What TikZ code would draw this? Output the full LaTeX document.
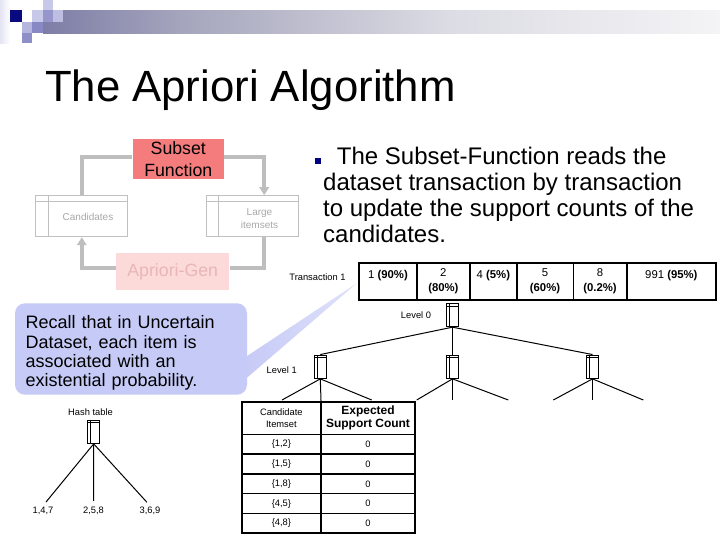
\documentclass[tikz,border=0pt]{standalone}
\usepackage{fontspec}
\setmainfont{Liberation Sans}
\usetikzlibrary{arrows.meta}

\definecolor{barnavy}{RGB}{30,30,134}
\definecolor{barmid}{RGB}{106,106,156}
\definecolor{bargrey}{RGB}{164,164,188}
\definecolor{barlight}{RGB}{220,220,228}
\definecolor{barpale}{RGB}{244,244,246}
\definecolor{bulletnavy}{RGB}{0,0,128}
\definecolor{sqnavy}{RGB}{10,10,128}
\definecolor{sqlight}{RGB}{200,200,232}
\definecolor{sqmid}{RGB}{150,150,204}
\definecolor{sqpale}{RGB}{228,228,242}
\definecolor{salmon}{RGB}{244,124,124}
\definecolor{pinkfill}{RGB}{252,218,218}
\definecolor{pinktext}{RGB}{232,182,182}
\definecolor{loopgrey}{RGB}{190,190,190}
\definecolor{boxgrey}{RGB}{192,192,192}
\definecolor{textgrey}{RGB}{168,168,168}
\definecolor{lav}{RGB}{198,202,246}
\definecolor{lavtip}{RGB}{224,226,250}

\pgfdeclarehorizontalshading{barshade}{100bp}{color(0bp)=(barnavy); color(20bp)=(barmid); color(35bp)=(bargrey); color(55bp)=(barlight); color(75bp)=(barpale); color(100bp)=(white)}

\tikzset{every picture/.style={line width=0.75pt}}

\begin{document}
\begin{tikzpicture}[x=0.75pt,y=0.75pt,yscale=-1,xscale=1,
  loopline/.style={draw=loopgrey, line width=3pt},
  looptip/.style={-{Triangle[width=7pt,length=6pt]}},
  listbox/.style={draw=boxgrey, minimum width=69pt, minimum height=30.75pt, inner sep=0pt,
    path picture={
      \draw [boxgrey] ([yshift=-4.5pt]path picture bounding box.north west) -- ([yshift=-4.5pt]path picture bounding box.north east);
      \draw [boxgrey] ([xshift=9.2pt]path picture bounding box.north west) -- ([xshift=9.2pt]path picture bounding box.south west);}},
  faint/.style={text=textgrey, align=center, inner sep=0pt, font=\fontsize{7.5}{10}\selectfont},
  hashicon/.style={draw, minimum width=8.7pt, minimum height=17.5pt, inner sep=0pt,
    path picture={
      \draw ([xshift=2pt]path picture bounding box.north west) -- ([xshift=2pt]path picture bounding box.south west);
      \draw ([yshift=-2pt]path picture bounding box.north west) -- ([yshift=-2pt]path picture bounding box.north east);}},
  small/.style={inner sep=0.75pt, font=\fontsize{7}{8}\selectfont},
  cell/.style={draw, line width=1.2pt, outer sep=0pt, inner sep=0pt, align=center, anchor=north west,
    minimum height=27.5pt, font=\fontsize{8.5}{11.25}\selectfont},
  tcell/.style={draw, line width=1pt, outer sep=0pt, inner sep=0.5pt, align=center, anchor=north west,
    font=\fontsize{7}{9}\selectfont},
  callout/.style={fill=lav, rounded corners=7.5pt, align=left, text width=158pt, inner xsep=8pt,
    minimum height=68.25pt, font=\fontsize{13.5}{14.4}\selectfont}]

%Background
\path [use as bounding box, fill=white] (0,0) rectangle (720,540);

%Shape: Header bar
\shade [shading=barshade] (43,10) rectangle (720,33);
%Shape: Corner squares
\shade [left color=sqpale, right color=white] (0,0) rectangle (10,43);
\fill [sqnavy] (10,10) rectangle (22,22);
\fill [sqlight] (32,10) rectangle (43,22);
\fill [sqlight] (43,0) rectangle (53,10);
\fill [sqmid] (43,10) rectangle (53,22);
\fill [sqlight!80!sqmid] (53,10) rectangle (63,22);
\fill [sqlight!90!sqnavy] (22,22) rectangle (32,33);
\fill [sqmid!90!sqnavy] (32,22) rectangle (43,33);
\fill [sqmid!95!sqnavy] (22,33) rectangle (32,43);

% Text Node
\node [anchor=base west, inner sep=0pt, font=\fontsize{32.8}{38}\selectfont] (title) at (44.5,101) {The Apriori Algorithm};

% Text Node
\node [anchor=north west, inner sep=0pt, align=left, font=\fontsize{18}{19.5}\selectfont] (desc) at (322.7,146.5)
  {\hspace*{-6.2pt}\textcolor{bulletnavy}{\rule[0.6pt]{4.5pt}{4.5pt}}\hspace{12pt}The Subset-Function reads the\\dataset transaction by transaction\\to update the support counts of the\\candidates.};

%Shape: Subset-Function cycle
\node [fill=salmon, minimum width=68.5pt, minimum height=30pt, inner sep=0pt, align=center, font=\fontsize{13.3}{16}\selectfont] (subset) at (178.3,159.3) {Subset\\Function};
\node [listbox] (cand) at (81.8,216.2) {};
\node [faint] (candtxt) at (88,217) {Candidates};
\node [listbox] (large) at (252.2,216.2) {};
\node [faint] (largetxt) at (259.5,218.5) {Large\\itemsets};
\node [fill=pinkfill, text=pinktext, minimum width=85pt, minimum height=27.5pt, inner sep=0pt, font=\fontsize{13.3}{16}\selectfont] (apgen) at (172.7,271.7) {Apriori-Gen};

%Straight Lines
\draw [loopline] ([yshift=-1.8pt]subset.west) -| (cand.north);
%Straight Lines
\draw [loopline, looptip] ([yshift=-1.8pt]subset.east) -| ([xshift=9pt]large.north);
%Straight Lines
\draw [loopline] ([xshift=9pt]large.south) |- ([yshift=-3pt]apgen.east);
%Straight Lines
\draw [loopline, looptip] ([yshift=-3pt]apgen.west) -| (cand.south);

% Text Node
\node [small] (tlabel) at (317.5,277.3) {Transaction 1};
%Shape: Transaction cells
\node [cell, minimum width=43.05pt] (t1) at (359.3,263.3) {1 \textbf{(90\%)}\\\phantom{0}};
\node [cell, minimum width=40pt] (t2) at (416.7,263.3) {2\\\textbf{(80\%)}};
\node [cell, minimum width=35pt] (t3) at (470,263.3) {4 \textbf{(5\%)}\\\phantom{0}};
\node [cell, minimum width=42.45pt] (t4) at (516.7,263.3) {5\\\textbf{(60\%)}};
\node [cell, minimum width=40.05pt] (t5) at (573.3,263.3) {8\\\textbf{(0.2\%)}};
\node [cell, minimum width=67pt] (t6) at (626.7,263.3) {991 \textbf{(95\%)}\\\phantom{0}};
\draw [line width=1.6pt] (t1.north west) rectangle (t6.south east);

%Shape: Callout
\node [callout] (recall) at (131,349) {\rule{0pt}{15.9pt}Recall that in Uncertain\\Dataset, each item is\\associated with an\\existential probability.};
\coordinate (tip) at (356.7,283.3);
\shade [left color=lav, right color=lavtip] ([xshift=-2pt,yshift=22.9pt]recall.east) -- (tip) -- ([xshift=-2pt,yshift=6.4pt]recall.east) -- cycle;

%Shape: Hash tree
\node [hashicon] (root) at (452.5,315) {};
\node [small] (lvl0) at (416,315) {Level 0};
\node [hashicon] (bkta) at (320.3,366.7) {};
\node [hashicon] (bktb) at (452.5,366.7) {};
\node [hashicon] (bktc) at (592.5,366.7) {};
\node [small] (lvl1) at (281.7,370) {Level 1};
\coordinate (a1) at (282,400);
\coordinate (a3) at (371.7,400);
\coordinate (b1) at (416.7,400);
\coordinate (b2) at (452.5,400);
\coordinate (b3) at (508.3,400);
\coordinate (c1) at (553.3,400);
\coordinate (c2) at (592.5,400);
\coordinate (c3) at (643.3,400);

%Straight Lines
\draw (root.south) -- (bkta.north);
\draw (root.south) -- (bktb.north);
\draw (root.south) -- (bktc.north);
%Straight Lines
\draw (bkta.south) -- (a1);
\draw (bkta.south) -- (a3);
\draw (bktb.south) -- (b1);
\draw (bktb.south) -- (b2);
\draw (bktb.south) -- (b3);
\draw (bktc.south) -- (c1);
\draw (bktc.south) -- (c2);
\draw (bktc.south) -- (c3);

%Shape: Candidate table
\node [tcell, minimum width=59.5pt, minimum height=24.5pt] (hdcand) at (241.7,401.7) {Candidate\\Itemset};
\node [tcell, minimum width=70.5pt, minimum height=24.5pt, font=\bfseries\fontsize{9}{10}\selectfont] (hdexp) at (321,401.7) {Expected\\Support Count};
\node [tcell, minimum width=59.5pt, minimum height=14.85pt] (r1) at (241.7,434.3) {\{1,2\}};
\node [tcell, minimum width=70.5pt, minimum height=14.85pt] (r1v) at (321,434.3) {0};
\node [tcell, minimum width=59.5pt, minimum height=14.85pt] (r2) at (241.7,454.1) {\{1,5\}};
\node [tcell, minimum width=70.5pt, minimum height=14.85pt] (r2v) at (321,454.1) {0};
\node [tcell, minimum width=59.5pt, minimum height=14.85pt] (r3) at (241.7,473.9) {\{1,8\}};
\node [tcell, minimum width=70.5pt, minimum height=14.85pt] (r3v) at (321,473.9) {0};
\node [tcell, minimum width=59.5pt, minimum height=14.85pt] (r4) at (241.7,493.7) {\{4,5\}};
\node [tcell, minimum width=70.5pt, minimum height=14.85pt] (r4v) at (321,493.7) {0};
\node [tcell, minimum width=59.5pt, minimum height=14.85pt] (r5) at (241.7,513.5) {\{4,8\}};
\node [tcell, minimum width=70.5pt, minimum height=14.85pt] (r5v) at (321,513.5) {0};
\draw [line width=1.5pt] (hdcand.north west) rectangle (r5v.south east);
%Straight Lines
\draw (bkta.south) -- (hdcand.north east);

%Shape: Hash table
\node [small] (hashlbl) at (90.5,411.7) {Hash table};
\node [hashicon] (hash) at (93.7,431.7) {};
\node [small] (k147) at (43,511) {1,4,7};
\node [small] (k258) at (93.5,511) {2,5,8};
\node [small] (k369) at (150,511) {3,6,9};
%Straight Lines
\draw [shorten >=3.5pt] (hash.south) -- (k147.north);
\draw [shorten >=3.5pt] (hash.south) -- (k258.north);
\draw [shorten >=3.5pt] (hash.south) -- (k369.north);

\end{tikzpicture}
\end{document}
